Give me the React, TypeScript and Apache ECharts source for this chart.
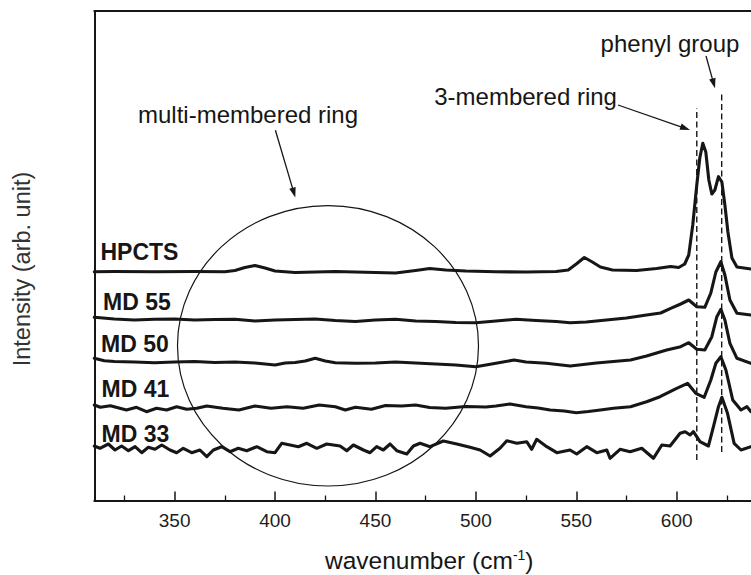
import React, { useEffect, useRef } from "react";
import * as echarts from "echarts";

// ---------- data ----------
const X_MIN = 310;
const X_MAX = 637;
const Y_MAX = 489.5;
const majorTicks = [350, 400, 450, 500, 550, 600];
const minorTicks = [325, 375, 425, 475, 525, 575, 625];

const sampleNames = ["HPCTS", "MD 55", "MD 50", "MD 41", "MD 33"];

const hpcts: number[][] = [
  [310, 228.8], [320, 229.0], [340, 228.7], [360, 229.0], [375, 228.8], [380, 230.0],
  [385, 233.0], [390, 235.0], [395, 232.5], [400, 229.5], [410, 228.0], [420, 228.5],
  [430, 229.0], [440, 228.5], [450, 228.0], [460, 227.5], [470, 230.0], [477, 232.0],
  [485, 230.5], [495, 229.5], [510, 228.7], [525, 228.5], [540, 229.0], [546, 230.5],
  [550, 236.5], [554, 243.0], [558, 238.5], [562, 233.5], [568, 230.5], [580, 230.0],
  [590, 232.0], [597, 234.0], [601, 233.0], [604, 236.5], [606, 245.5], [608, 275.5],
  [610, 315.5], [611.5, 342.5], [613, 357.2], [614.5, 348.5], [616, 320.5], [617.5, 306.5],
  [619, 310.5], [620.8, 323.8], [622.5, 318.5], [624, 295.5], [625.5, 268.5], [627.5, 242.5],
  [630, 233.5], [637, 231.5],
];

const md55: number[][] = [
  [310, 183.2], [320, 181.5], [330, 180.5], [340, 181.2], [350, 181.5], [360, 180.5],
  [370, 181.0], [380, 181.2], [390, 179.5], [400, 180.5], [410, 181.0], [420, 181.5],
  [430, 180.0], [440, 179.0], [450, 180.5], [460, 181.2], [470, 179.5], [480, 179.0],
  [490, 178.0], [500, 177.8], [510, 179.5], [520, 181.2], [530, 180.0], [540, 179.0],
  [547, 177.8], [555, 178.5], [565, 180.5], [575, 182.5], [585, 185.5], [592, 187.5],
  [597, 192.2], [602, 196.5], [606, 200.5], [610, 193.8], [614, 193.2], [617, 207.5],
  [619.5, 228.5], [622, 238.8], [624, 225.5], [626.5, 200.5], [630, 187.2], [637, 185.5],
];

const md50: number[][] = [
  [310, 142.2], [315, 139.8], [320, 139.0], [330, 138.5], [340, 137.8], [350, 138.5],
  [360, 139.0], [370, 138.0], [380, 138.5], [390, 137.5], [400, 135.5], [405, 137.5],
  [410, 138.0], [415, 139.5], [420, 142.2], [425, 139.5], [430, 137.8], [440, 137.2],
  [450, 137.5], [460, 138.5], [470, 137.5], [480, 136.5], [490, 135.5], [500, 133.8],
  [510, 137.2], [519, 140.5], [525, 138.5], [535, 137.2], [547, 134.5], [560, 137.5],
  [577, 140.5], [585, 144.5], [595, 150.5], [602, 153.8], [606, 157.8], [610, 151.2],
  [614, 150.5], [617.5, 163.8], [620, 183.8], [622, 191.2], [624, 180.5], [626.5, 157.2],
  [630, 142.2], [637, 137.2],
];

const md41: number[][] = [
  [310, 95.5], [313, 93.2], [318, 94.8], [326, 90.5], [331, 93.2], [336, 88.8],
  [341, 92.2], [346, 90.5], [351, 93.8], [356, 91.2], [361, 92.2], [366, 94.5],
  [374, 92.2], [382, 90.5], [390, 94.5], [398, 92.2], [406, 93.8], [414, 92.2],
  [422, 95.5], [430, 93.8], [435, 90.5], [440, 93.2], [448, 91.2], [455, 95.0],
  [463, 94.5], [470, 95.5], [477, 93.0], [485, 92.2], [495, 94.0], [505, 93.5],
  [510, 94.5], [517, 96.5], [525, 93.8], [531, 92.5], [537, 90.5], [544, 89.5],
  [550, 87.8], [556, 89.0], [562, 90.5], [568.5, 92.2], [577, 93.8], [585, 98.8],
  [591.7, 103.8], [600, 112.2], [605.4, 117.2], [609.5, 107.2], [613.7, 103.2], [617, 120.5],
  [619.5, 137.2], [622, 143.8], [624.5, 130.5], [627.9, 100.5], [632, 90.5], [635, 93.8],
  [637, 88.8],
];

const md33: number[][] = [
  [310, 54.5], [312.8, 52.2], [317, 56.5], [320.3, 50.5], [323.6, 54.5], [327, 49.8],
  [330.3, 53.8], [333.6, 47.8], [336.9, 53.2], [340.2, 51.2], [343.6, 55.5], [347.7, 50.5],
  [351, 47.8], [354.3, 52.2], [358.5, 47.8], [362.6, 50.5], [366, 43.8], [369.3, 50.5],
  [373.4, 53.8], [377.6, 48.8], [381.7, 52.2], [385.9, 49.8], [390.9, 53.8], [395.9, 48.8],
  [400, 47.8], [403.3, 57.2], [407.5, 55.5], [411.6, 53.8], [415.8, 57.2], [420.8, 52.2],
  [425.7, 56.5], [432.4, 54.5], [435.7, 49.8], [439, 55.5], [444, 50.5], [447.3, 47.8],
  [450.6, 53.8], [453.9, 50.5], [457.3, 56.5], [460.6, 49.8], [465.6, 46.5], [468.9, 54.5],
  [472.2, 57.2], [477.2, 53.8], [483.8, 59.5], [490.5, 56.5], [497.1, 53.2], [502.1, 50.5],
  [507.1, 44.5], [512, 52.2], [515.4, 59.8], [520.4, 57.2], [525.3, 58.8], [527.8, 51.2],
  [530.3, 61.2], [535.3, 53.8], [540.3, 47.8], [546.9, 50.5], [550.2, 46.5], [555.2, 53.8],
  [560.2, 47.8], [565.2, 50.5], [566.8, 42.2], [571.8, 51.2], [576.8, 48.8], [582.6, 52.2],
  [588.4, 42.2], [592.6, 55.5], [596.7, 54.5], [601.7, 67.2], [604.2, 68.8], [606.7, 65.5],
  [608.3, 68.8], [611.6, 58.8], [615.8, 54.5], [618.3, 73.8], [620.8, 93.8], [622.5, 103.2],
  [625.3, 87.2], [628.6, 57.2], [632, 50.5], [637, 53.8],
];

const spectra = [hpcts, md55, md50, md41, md33];

// dashed reference lines: wavenumber, lower and upper intensity
const refLineX = [610, 622.4];
const refLineLow = [40.5, 48.5];
const refLineHigh = [392.5, 408.8];

const annotationTexts = ["multi-membered ring", "3-membered ring", "phenyl group"];

// ---------- styling ----------
const FONT = "Liberation Sans, Arial, Helvetica, sans-serif";
const INK = "#161616";

function arrow(x1: number, y1: number, x2: number, y2: number) {
  const dx = x2 - x1;
  const dy = y2 - y1;
  const L = Math.hypot(dx, dy);
  const ux = dx / L;
  const uy = dy / L;
  const hl = 10;
  const hw = 3.3;
  const bx = x2 - ux * hl;
  const by = y2 - uy * hl;
  return [
    {
      type: "line",
      silent: true,
      shape: { x1, y1, x2: bx + ux * 2, y2: by + uy * 2 },
      style: { stroke: INK, lineWidth: 1.3 },
    },
    {
      type: "polygon",
      silent: true,
      shape: {
        points: [
          [x2, y2],
          [bx - uy * hw, by + ux * hw],
          [bx + uy * hw, by - ux * hw],
        ],
      },
      style: { fill: INK },
    },
  ];
}

export default function App() {
  const ref = useRef<HTMLDivElement>(null);

  useEffect(() => {
    document.body.style.margin = "0";
    if (!ref.current) return;
    const chart = echarts.init(ref.current, undefined, { renderer: "svg" });

    const labelPos = [
      [100.5, 252],
      [103, 301.5],
      [101, 344],
      [101.5, 389],
      [101.5, 434],
    ];

    const annPos = [
      [248, 114.4],
      [525.6, 96.2],
      [670, 43.4],
    ];

    const graphic: any[] = [
      {
        type: "ellipse",
        silent: true,
        shape: { cx: 328, cy: 345.8, rx: 150.5, ry: 140.2 },
        style: { fill: "none", stroke: INK, lineWidth: 1.2 },
      },
      ...arrow(275.4, 130.2, 295.3, 197.5),
      ...arrow(618, 105, 690, 130),
      ...arrow(706, 56, 715, 88.3),
      ...annotationTexts.map((t, i) => ({
        type: "text",
        silent: true,
        x: annPos[i][0],
        y: annPos[i][1],
        style: {
          text: t,
          font: `24px ${FONT}`,
          fill: INK,
          align: "center",
          verticalAlign: "middle",
        },
      })),
      ...sampleNames.map((t, i) => ({
        type: "text",
        silent: true,
        x: labelPos[i][0],
        y: labelPos[i][1],
        style: {
          text: t,
          font: `bold 23px ${FONT}`,
          fill: INK,
          align: "left",
          verticalAlign: "middle",
        },
      })),
      {
        type: "text",
        silent: true,
        x: 325,
        y: 560.5,
        style: {
          text: "{a|wavenumber (cm}{s|-1}{a|)}",
          fill: INK,
          align: "left",
          verticalAlign: "middle",
          rich: {
            a: { fontSize: 24.5, fontFamily: FONT, fill: INK, lineHeight: 25 },
            s: {
              fontSize: 14,
              fontFamily: FONT,
              fill: INK,
              lineHeight: 14,
              verticalAlign: "top",
            },
          },
        },
      },
      {
        type: "text",
        silent: true,
        x: 21.5,
        y: 269,
        rotation: Math.PI / 2,
        style: {
          text: "Intensity (arb. unit)",
          font: `23.5px ${FONT}`,
          fill: "#333",
          align: "center",
          verticalAlign: "middle",
        },
      },
    ];

    const axisLine = { show: true, lineStyle: { color: INK, width: 2 } };

    const series: any[] = spectra.map((d, i) => ({
      name: sampleNames[i],
      type: "line",
      data: d,
      showSymbol: false,
      symbol: "none",
      smooth: false,
      xAxisIndex: 0,
      yAxisIndex: 0,
      lineStyle: { color: INK, width: 3.1, join: "round", cap: "round" },
      z: 3,
    }));

    refLineX.forEach((x, i) => {
      series.push({
        type: "line",
        data: [
          [x, refLineLow[i]],
          [x, refLineHigh[i]],
        ],
        showSymbol: false,
        symbol: "none",
        xAxisIndex: 0,
        yAxisIndex: 0,
        lineStyle: { color: INK, width: 1.4, type: [6, 3.5] },
        z: 2,
      });
    });

    chart.setOption({
      animation: false,
      backgroundColor: "#ffffff",
      grid: { left: 94.3, right: 0, top: 11, bottom: 74.5, containLabel: false },
      xAxis: [
        {
          type: "value",
          min: X_MIN,
          max: X_MAX,
          position: "bottom",
          axisLine,
          axisTick: {
            show: true,
            inside: true,
            length: 9,
            customValues: majorTicks,
            lineStyle: { color: INK, width: 1.5 },
          },
          axisLabel: {
            show: true,
            customValues: majorTicks,
            fontSize: 19,
            fontFamily: FONT,
            color: "#1e1e1e",
            margin: 10,
          },
          splitLine: { show: false },
        },
        {
          type: "value",
          min: X_MIN,
          max: X_MAX,
          position: "bottom",
          axisLine: { show: false },
          axisTick: {
            show: true,
            inside: true,
            length: 5,
            customValues: minorTicks,
            lineStyle: { color: INK, width: 1.3 },
          },
          axisLabel: { show: false },
          splitLine: { show: false },
        },
        {
          type: "value",
          min: X_MIN,
          max: X_MAX,
          position: "top",
          axisLine,
          axisTick: { show: false },
          axisLabel: { show: false },
          splitLine: { show: false },
        },
      ],
      yAxis: {
        type: "value",
        min: 0,
        max: Y_MAX,
        axisLine,
        axisTick: { show: false },
        axisLabel: { show: false },
        splitLine: { show: false },
      },
      series,
      graphic,
    });

    return () => chart.dispose();
  }, []);

  return <div ref={ref} style={{ width: 751, height: 575 }} />;
}
